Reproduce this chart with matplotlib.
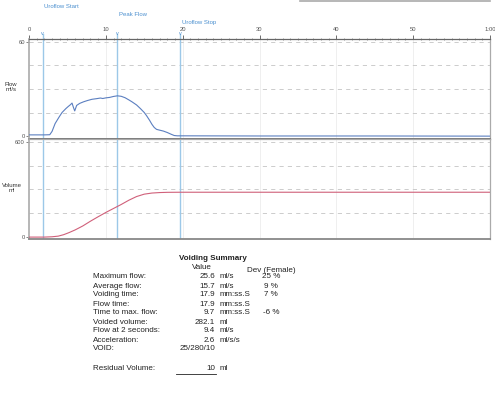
import matplotlib.pyplot as plt
import matplotlib.transforms as mtransforms
from matplotlib.lines import Line2D

plt.rcParams['font.family'] = ['Liberation Sans', 'DejaVu Sans']

# Flow curve (s, ml/s)
flow_t = [0, 1.0, 2.0, 2.7, 3.0, 3.4, 3.9, 4.3, 4.8, 5.1, 5.4, 5.6, 5.8, 5.95, 6.2,
          6.6, 7.1, 7.6, 8.2, 8.8, 9.3, 9.6, 10.0, 10.5, 11.0, 11.5, 12.0, 12.5,
          13.0, 13.4, 14.0, 14.5, 15.0, 15.3, 15.7, 16.0, 16.3, 16.6, 17.0, 17.5,
          18.0, 18.5, 18.9, 19.3, 20.0, 30.0, 45.0, 60.0]
flow_v = [0.8, 0.8, 0.8, 0.9, 3.0, 8.0, 12.0, 15.0, 17.5, 18.8, 20.0, 21.0, 18.0, 16.0, 19.5,
          20.8, 21.8, 22.6, 23.4, 23.8, 24.2, 23.9, 24.3, 24.6, 25.2, 25.6, 25.3, 24.4,
          23.0, 21.8, 19.8, 17.5, 15.0, 13.0, 10.0, 7.5, 5.5, 4.3, 3.8, 3.2,
          2.3, 1.2, 0.4, 0.2, 0.2, 0.1, 0.1, 0.0]

# Volume curve (s, ml)
vol_t = [0, 2.0, 3.0, 3.8, 4.5, 5.2, 6.0, 7.0, 8.0, 9.0, 10.0, 11.0, 12.0, 13.0,
         14.0, 15.0, 16.0, 17.0, 18.0, 19.7, 60.0]
vol_v = [0, 0, 2, 6, 15, 28, 45, 70, 100, 128, 155, 180, 205, 232,
         255, 270, 277, 280, 281.5, 282.1, 282.1]

# Event markers
event_names = ['Uroflow Start', 'Peak Flow', 'Uroflow Stop']
event_times = [1.8, 11.5, 19.7]
event_label_y = [6.7, 15.0, 22.7]   # px from top

# Axis ticks
x_ticks = [0, 10, 20, 30, 40, 50, 60]
x_ticklabels = ['0', '10', '20', '30', '40', '50', '1:00']

# Voiding summary
summary_labels = ['Maximum flow:', 'Average flow:', 'Voiding time:', 'Flow time:',
                  'Time to max. flow:', 'Voided volume:', 'Flow at 2 seconds:',
                  'Acceleration:', 'VOID:']
summary_values = ['25.6', '15.7', '17.9', '17.9', '9.7', '282.1', '9.4', '2.6', '25/280/10']
summary_units = ['ml/s', 'ml/s', 'mm:ss.S', 'mm:ss.S', 'mm:ss.S', 'ml', 'ml/s', 'ml/s/s', '']
summary_dev = ['25 %', '9 %', '7 %', '', '-6 %', '', '', '', '']
residual_value = '10'
residual_unit = 'ml'

W, H = 495, 400
def fx(px):
    return px / W
def fy(py):
    return 1 - py / H

fig = plt.figure(figsize=(4.95, 4.0), dpi=100)

ax_flow = fig.add_axes([fx(29), fy(138.5), fx(461), 100 / H])
ax_vol = fig.add_axes([fx(29), fy(239), fx(461), 100.5 / H])

blue_line = '#9cc8e8'
blue_text = '#4a8fcf'
grid_c = '#c4c4c4'

for ax in (ax_flow, ax_vol):
    ax.set_xlim(0, 60)
    for xv in x_ticks[1:-1]:
        ax.axvline(xv, color='#ececec', lw=0.6, zorder=0)
    for sp in ax.spines.values():
        sp.set_color('#aaaaaa')
        sp.set_linewidth(0.9)
    ax.spines['left'].set_linewidth(1.2)

# Flow panel
ax_flow.set_ylim(-1.5, 62)
for yv in [15, 30, 45, 60]:
    ax_flow.axhline(yv, color=grid_c, lw=0.6, ls=(0, (5, 5)), zorder=0)
ax_flow.plot(flow_t, flow_v, color='#5b7fc0', lw=0.8, zorder=3)
ax_flow.spines['bottom'].set_color('#777777')
ax_flow.spines['bottom'].set_linewidth(1.4)
ax_flow.spines['top'].set_color('#666666')
ax_flow.xaxis.tick_top()
ax_flow.set_xticks(x_ticks)
ax_flow.set_xticklabels(x_ticklabels)
ax_flow.set_xticks(range(0, 61), minor=True)
ax_flow.tick_params(axis='x', which='major', direction='out', length=3, width=0.6,
                    colors='#555555', labelsize=4.2, pad=2)
ax_flow.tick_params(axis='x', which='minor', direction='inout', length=2, width=0.5,
                    colors='#777777')
ax_flow.set_yticks([0, 60])
ax_flow.tick_params(axis='y', length=2, width=0.5, colors='#555555', labelsize=4.2, pad=1)

# Volume panel
ax_vol.set_ylim(-12, 620)
for yv in [150, 300, 450, 600]:
    ax_vol.axhline(yv, color=grid_c, lw=0.6, ls=(0, (5, 5)), zorder=0)
ax_vol.plot(vol_t, vol_v, color='#d0607a', lw=0.8, zorder=3)
ax_vol.spines['bottom'].set_color('#888888')
ax_vol.spines['bottom'].set_linewidth(1.3)
ax_vol.set_xticks([])
ax_vol.set_yticks([0, 600])
ax_vol.tick_params(axis='y', length=2, width=0.5, colors='#555555', labelsize=4.2, pad=1)

# Event lines, markers and labels
lbl_tr = mtransforms.blended_transform_factory(ax_flow.transData, fig.transFigure)
for name, t, ly in zip(event_names, event_times, event_label_y):
    ax_flow.axvline(t, ymin=0, ymax=1.05, color=blue_line, lw=1.0, clip_on=False, zorder=2)
    ax_vol.axvline(t, color=blue_line, lw=1.0, zorder=2)
    ax_flow.text(t, 65.2, 'v', color=blue_text, fontsize=4, ha='center', va='center',
                 clip_on=False)
    ax_flow.text(t + 0.2, fy(ly), name, transform=lbl_tr, color=blue_text, fontsize=4.3,
                 ha='left', va='center')

# Axis titles
fig.text(fx(11), fy(87), 'Flow\nml/s', fontsize=4.3, ha='center', va='center',
         multialignment='center', color='#333333', linespacing=1.1)
fig.text(fx(12), fy(188), 'Volume\nml', fontsize=4.3, ha='center', va='center',
         multialignment='center', color='#333333', linespacing=1.1)

# faint scan edge at top right
fig.add_artist(Line2D([fx(300), fx(490)], [fy(0.8), fy(0.8)], transform=fig.transFigure,
                      color='#aaaaaa', lw=1.2))

# Voiding summary
fs = 5.8
tc = '#222222'
fig.text(fx(212.5), fy(259), 'Voiding Summary', fontsize=fs, fontweight='bold',
         ha='center', va='center', color=tc)
fig.text(fx(202), fy(267.5), 'Value', fontsize=fs, ha='center', va='center', color=tc)
fig.text(fx(271.5), fy(270), 'Dev (Female)', fontsize=fs, ha='center', va='center', color=tc)
for i, (lab, val, unit, dev) in enumerate(zip(summary_labels, summary_values,
                                              summary_units, summary_dev)):
    y = 277 + 9 * i
    fig.text(fx(93), fy(y), lab, fontsize=fs, ha='left', va='center', color=tc)
    fig.text(fx(215), fy(y), val, fontsize=fs, ha='right', va='center', color=tc)
    if unit:
        fig.text(fx(220), fy(y), unit, fontsize=fs, ha='left', va='center', color=tc)
    if dev:
        fig.text(fx(271), fy(y), dev, fontsize=fs, ha='center', va='center', color=tc)

fig.text(fx(93), fy(368), 'Residual Volume:', fontsize=fs, ha='left', va='center', color=tc)
fig.text(fx(215), fy(368), residual_value, fontsize=fs, ha='right', va='center', color=tc)
fig.text(fx(220), fy(368), residual_unit, fontsize=fs, ha='left', va='center', color=tc)
fig.add_artist(Line2D([fx(176), fx(216)], [fy(374), fy(374)], transform=fig.transFigure,
                      color=tc, lw=0.6))

fig.savefig('out.png', dpi=100)
